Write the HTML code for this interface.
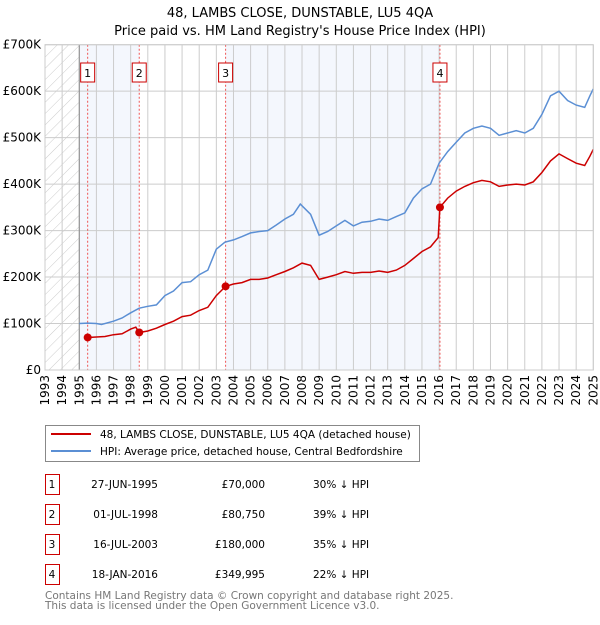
<!DOCTYPE html>
<html><head><meta charset="utf-8"><style>
body{margin:0;background:#fff;}
svg text{font-family:"DejaVu Sans","Liberation Sans",sans-serif;}
</style></head><body>
<svg width="600" height="620" xmlns="http://www.w3.org/2000/svg">
<g id="chart"></g>
</svg>
<script>
const hpiYears=[1995,1995.5,1996,1996.3,1997,1997.5,1998,1998.5,1999,1999.5,2000,2000.5,2001,2001.5,2002,2002.5,2003,2003.5,2004,2004.5,2005,2005.5,2006,2006.5,2007,2007.5,2007.9,2008.5,2009,2009.5,2010,2010.5,2011,2011.5,2012,2012.5,2013,2013.5,2014,2014.5,2015,2015.5,2016,2016.5,2017,2017.5,2018,2018.5,2019,2019.5,2020,2020.5,2021,2021.5,2022,2022.5,2023,2023.5,2024,2024.5,2024.8,2025];
const hpiValues=[100,101,100,98,105,112,123,133,137,140,160,170,188,190,205,215,260,275,280,287,295,298,300,312,325,335,357,335,290,298,310,322,310,318,320,325,322,330,338,370,390,400,445,470,490,510,520,525,520,505,510,515,510,520,550,590,600,580,570,565,590,605];
const priceYears=[1995.49,1996,1996.5,1997,1997.5,1998,1998.3,1998.5,1999,1999.5,2000,2000.5,2001,2001.5,2002,2002.5,2003,2003.54,2004,2004.5,2005,2005.5,2006,2006.5,2007,2007.5,2008,2008.5,2009,2009.5,2010,2010.5,2011,2011.5,2012,2012.5,2013,2013.5,2014,2014.5,2015,2015.5,2015.95,2016.05,2016.5,2017,2017.5,2018,2018.5,2019,2019.5,2020,2020.5,2021,2021.5,2022,2022.5,2023,2023.5,2024,2024.5,2024.8,2025];
const priceValues=[70,71,72,76,78,88,92,80.75,84,90,98,105,115,118,128,135,160,180,185,188,195,195,198,205,212,220,230,225,195,200,205,212,208,210,210,213,210,215,225,240,255,265,285,350,370,385,395,403,408,405,395,398,400,398,405,425,450,465,455,445,440,460,475];
const saleYears=[1995.49,1998.5,2003.54,2016.05];
const saleValues=[70,80.75,180,349.995];
const saleLabels=["1","2","3","4"];
const saleDates=["27-JUN-1995","01-JUL-1998","16-JUL-2003","18-JAN-2016"];
const salePrices=["£70,000","£80,750","£180,000","£349,995"];
const saleDiffs=["30% ↓ HPI","39% ↓ HPI","35% ↓ HPI","22% ↓ HPI"];
const yTicks=[0,100,200,300,400,500,600,700];
const yTickLabels=["£0","£100K","£200K","£300K","£400K","£500K","£600K","£700K"];

const X0=45,X1=593.3,Y0=370,Y1=44.7;
const xs=y=>X0+(y-1993)*(X1-X0)/32;
const ys=v=>Y0-v*(Y0-Y1)/700;
const NS="http://www.w3.org/2000/svg";
const g=document.getElementById('chart');
function mk(tag,attrs,parent){const e=document.createElementNS(NS,tag);for(const k in attrs)e.setAttribute(k,attrs[k]);(parent||g).appendChild(e);return e;}

let t=mk('text',{x:300,y:17,'text-anchor':'middle','font-size':13,fill:'#000'});t.textContent="48, LAMBS CLOSE, DUNSTABLE, LU5 4QA";


t=mk('text',{x:300,y:35,'text-anchor':'middle','font-size':13,fill:'#000'});t.textContent="Price paid vs. HM Land Registry's House Price Index (HPI)";



const defs=mk('defs',{});
const pat=mk('pattern',{id:'hatch',width:8,height:8,patternUnits:'userSpaceOnUse',patternTransform:'rotate(45)'},defs);
mk('line',{x1:0,y1:0,x2:0,y2:8,stroke:'#ccc','stroke-width':1},pat);
let r=mk('rect',{x:X0,y:Y1,width:xs(1995)-X0,height:Y0-Y1,fill:'url(#hatch)'});


[[1995,saleYears[0]],[saleYears[0],saleYears[1]],[saleYears[2],saleYears[3]]].forEach((b,i)=>{
 const e=mk('rect',{x:xs(b[0]),y:Y1,width:xs(b[1])-xs(b[0]),height:Y0-Y1,fill:'#eef3fc',opacity:0.65});
 
 
});
for(let y=1993;y<=2025;y++){
 const e=mk('line',{x1:xs(y),x2:xs(y),y1:Y1,y2:Y0,stroke:'#ccc','stroke-width':1});
 
 
 const l=mk('text',{transform:`translate(${xs(y)+4},${Y0+5}) rotate(-90)`,'text-anchor':'end','font-size':12,fill:'#000'});
 l.textContent=y;
 
 
}
yTicks.forEach((v,i)=>{
 const e=mk('line',{x1:X0,x2:X1,y1:ys(v),y2:ys(v),stroke:'#ccc','stroke-width':1});
 
 
 const l=mk('text',{x:X0-4,y:ys(v)+4,'text-anchor':'end','font-size':12,fill:'#000'});
 l.textContent=yTickLabels[i];
 
 
});
mk('line',{x1:xs(1995),x2:xs(1995),y1:Y1,y2:Y0,stroke:'#888','stroke-width':1});
saleYears.forEach((y,i)=>{
 const e=mk('line',{x1:xs(y),x2:xs(y),y1:Y1,y2:Y0,stroke:'#e55','stroke-width':1,'stroke-dasharray':'2,2'});
 
 
 const b=mk('rect',{x:xs(y)-7,y:63,width:14,height:19,fill:'#fff',stroke:'#c00','stroke-width':1});
 
 
 const l=mk('text',{x:xs(y),y:77,'text-anchor':'middle','font-size':11,fill:'#000'});
 l.textContent=saleLabels[i];
 
 
});
let p=mk('path',{d:hpiYears.map((y,i)=>(i?'L':'M')+xs(y).toFixed(1)+','+ys(hpiValues[i]).toFixed(1)).join(''),fill:'none',stroke:'#5b8fd4','stroke-width':1.5});


p=mk('path',{d:priceYears.map((y,i)=>(i?'L':'M')+xs(y).toFixed(1)+','+ys(priceValues[i]).toFixed(1)).join(''),fill:'none',stroke:'#cc0000','stroke-width':1.5});


saleYears.forEach((y,i)=>{
 const c=mk('circle',{cx:xs(y),cy:ys(saleValues[i]),r:4,fill:'#cc0000'});
 
 
});
mk('rect',{x:X0,y:Y1,width:X1-X0,height:Y0-Y1,fill:'none',stroke:'#ccc','stroke-width':1});

const lg=mk('g',{});


mk('rect',{x:45.5,y:425.5,width:374,height:36,fill:'#fff',stroke:'#888'},lg);
mk('line',{x1:51,x2:91,y1:434,y2:434,stroke:'#cc0000','stroke-width':2},lg);
mk('line',{x1:51,x2:91,y1:451,y2:451,stroke:'#5b8fd4','stroke-width':2},lg);
t=mk('text',{x:100,y:438,'font-size':10.5},lg);t.textContent="48, LAMBS CLOSE, DUNSTABLE, LU5 4QA (detached house)";


t=mk('text',{x:100,y:455,'font-size':10.5},lg);t.textContent="HPI: Average price, detached house, Central Bedfordshire";



saleLabels.forEach((s,i)=>{
 const cy=483+i*30;
 const b=mk('rect',{x:45.5,y:cy-8.5,width:14,height:20,fill:'#fff',stroke:'#c00'});
 
 
 const vals=[[52,s,'middle'],[158,saleDates[i],'end'],[265,salePrices[i],'end'],[313,saleDiffs[i],'start']];
 vals.forEach(v=>{const e=mk('text',{x:v[0],y:cy+5,'font-size':10.5,'text-anchor':v[2]});e.textContent=v[1];
  
  });
});
t=mk('text',{x:45,y:599,'font-size':10.5,fill:'#777'});t.textContent="Contains HM Land Registry data © Crown copyright and database right 2025.";


t=mk('text',{x:45,y:609,'font-size':10.5,fill:'#777'});t.textContent="This data is licensed under the Open Government Licence v3.0.";


</script>
</body></html>
